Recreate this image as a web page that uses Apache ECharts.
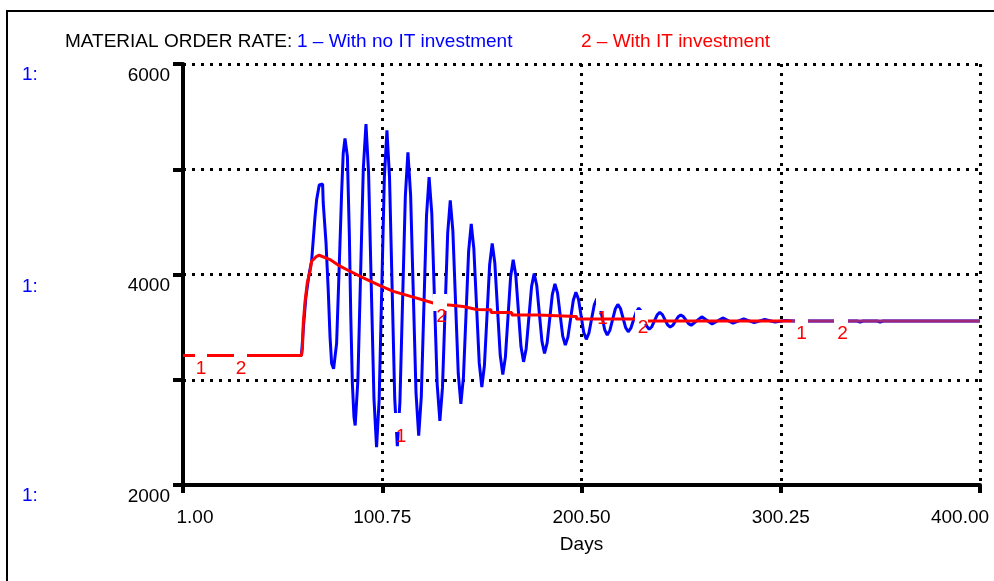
<!DOCTYPE html>
<html><head><meta charset="utf-8">
<script src="https://cdn.jsdelivr.net/npm/echarts@6/dist/echarts.min.js"></script>
<style>html,body{margin:0;padding:0;background:#fff}#c{width:994px;height:581px}</style>
</head><body><div id="c"></div>
<script>
// ---- data ----
const titleText = 'MATERIAL ORDER RATE:';
const seriesNames = ['1 \u2013 With no IT investment', '2 \u2013 With IT investment'];
const xAxisName = 'Days';
const xTickDays = [1, 100.75, 200.5, 300.25, 400];
const yTickLabels = [2000, 4000, 6000];

const blueDays = [1,60.3,61.3,62.5,64.0,65.4,67.1,67.9,69.2,70.1,70.9,
  71.2,72.6,73.7,74.6,75.4,76.4,
  77.9,78.7,79.6,80.4,81.2,82.1,
  83.3,84.3,85.0,85.8,86.6,87.2,
  88.55,91.25,92.6, 93.9,96.6,97.9, 99.2,101.8,103.1, 104.4,107.0,108.3,
  109.6,112.3,113.6, 114.95,117.65,119.0, 120.3,122.9,124.2, 125.55,128.25,129.6,
  130.9,133.5,134.8, 136.1,138.8,140.1, 141.4,144.0,145.3, 146.6,149.3,150.6,
  151.9,154.5,155.8, 157.1,159.8,161.1, 162.4,165.0,166.3, 167.6,170.2,171.5,
  172.8,175.5,176.8, 178.1,180.7,182.0, 183.3,185.9,187.2, 188.5,191.1,192.4,
  193.7,196.4,197.7, 199.0,201.6,202.9, 204.2,206.9,208.2, 209.5,212.1,213.4,
  214.7,217.4,218.7, 220.0,222.6,223.9, 225.2,227.9,229.2, 230.5,233.1,234.4,
  235.7,238.4,239.7, 241.0,243.6,244.9, 246.2,248.9,250.2, 251.5,254.1,255.4,
  260.7,265.9,271.2,276.4,281.7,286.9,292.2,297.4,302.5,307,
  338.5,340,341.5,348.5,350,351.5,400];
const blueValues = [3230,3230,3500,3780,3990,4130,4550,4710,4850,4868,4860,
  4680,4300,3855,3410,3155,3105,
  3345,3790,4300,4770,5150,5293,
  5120,4360,3600,2960,2645,2565,
  2995,5000,5430, 4970,2820,2360, 2810,4920,5370, 4920,2820,2370,
  2790,4740,5160, 4755,2875,2470, 2840,4555,4925, 4580,2955,2610,
  2925,4390,4705, 4415,3060,2770, 3025,4225,4480, 4245,3160,2930,
  3135,4090,4295, 4110,3235,3050, 3215,3975,4140, 3995,3315,3170,
  3295,3885,4010, 3895,3365,3250, 3350,3810,3910, 3825,3415,3330,
  3405,3755,3832, 3765,3452,3384, 3442,3712,3770, 3718,3477,3425,
  3469,3672,3716, 3677,3495,3456, 3490,3646,3680, 3650,3510,3480,
  3504,3616,3640, 3619,3521,3500, 3517,3598,3615, 3600,3533,3518,
  3598,3530,3587,3538,3578,3543,3572,3548,3562,3558,
  3558,3547,3558,3558,3547,3558,3558];

const redDays = [1,60.3,60.8,61.2,62.1,63.2,64.6,65.4,67.9,69.2,74.6,79.6,84.6,91.3,99.6,
  106.3,116.3,126.3,133,141.3,148,155.2,155.2,165.6,165.6,178.5,178.5,198,198,230,230,400];
const redValues = [3230,3230,3300,3537,3745,3920,4031,4126,4173,4183,4142,4079,4031,3968,3895,
  3840,3785,3729,3712,3696,3668,3665,3640,3640,3616,3616,3600,3600,3578,3578,3558,3558];

// ---- build ----
const FONT = '"Liberation Sans", Arial, Helvetica, sans-serif';
const FS = 19;
const BLUE = '#0000ff', RED = '#ff0000';
const toPairs = (d, v) => d.map((x, i) => [x - 1, v[i]]);
const firstDay = xTickDays[0], lastDay = xTickDays[xTickDays.length - 1];

function txt(text, x, y, color, align) {
  return { type: 'text', z: 100, style: { text, x, y, fill: color, font: FS + 'px ' + FONT,
    align: align || 'left', verticalAlign: 'middle', textAlign: align || 'left', textVerticalAlign: 'middle' } };
}
function box(x, y, w, h) {
  return { type: 'rect', z: 99, shape: { x, y, width: w, height: h }, style: { fill: '#fff' } };
}

const graphics = [
  // frame
  { type: 'line', z: 100, shape: { x1: 7, y1: 11, x2: 7, y2: 581 }, style: { stroke: '#000', lineWidth: 2 } },
  { type: 'line', z: 100, shape: { x1: 6, y1: 11, x2: 994, y2: 11 }, style: { stroke: '#000', lineWidth: 2 } },
  txt(titleText, 65, 42, '#000'),
  txt(seriesNames[0], 297, 42, BLUE),
  txt(seriesNames[1], 581, 42, RED),
  txt('1:', 22, 75, BLUE), txt('1:', 22, 287, BLUE), txt('1:', 22, 496, BLUE),
  // line number labels (white knock-out boxes + digits)
  box(195, 349, 12, 18), txt('1', 201, 369, RED, 'center'),
  box(234, 349, 13, 18), txt('2', 241, 369, RED, 'center'),
  box(393, 413, 15, 19), txt('1', 401, 437, RED, 'center'),
  box(433, 294, 14, 17), txt('2', 441.5, 317, RED, 'center'),
  box(596, 294, 12, 17), txt('1', 602.5, 319, RED, 'center'),
  box(635, 310, 13, 14), txt('2', 643, 328, RED, 'center'),
  box(795, 314, 13, 13), txt('1', 801.5, 334, RED, 'center'),
  box(834, 314, 14, 13), txt('2', 842.5, 333.5, RED, 'center')
];

const dotted = { color: '#000', width: 3, type: [3, 6] };

const chart = echarts.init(document.getElementById('c'), null, { renderer: 'canvas' });
chart.setOption({
  animation: false,
  backgroundColor: '#fff',
  grid: { left: 183, right: 14, top: 64, bottom: 96, containLabel: false, outerBoundsMode: 'none' },
  xAxis: {
    type: 'value', min: 0, max: lastDay - firstDay, interval: (xTickDays[1] - xTickDays[0]),
    axisLine: { show: true, onZero: false, lineStyle: { color: '#000', width: 4 } },
    axisTick: { show: true, length: 8, lineStyle: { color: '#000', width: 4 } },
    splitLine: { show: true, lineStyle: dotted },
    axisLabel: { color: '#000', fontFamily: FONT, fontSize: FS, margin: 23,
      alignMinLabel: 'center', alignMaxLabel: 'center',
      formatter: v => {
        const s = (v + firstDay).toFixed(2);
        if (v === 0) return '{mn|' + s + '}';
        if (v === lastDay - firstDay) return '{mx|' + s + '}';
        return s;
      },
      rich: {
        mn: { fontFamily: FONT, fontSize: FS, color: '#000', padding: [0, 0, 0, 24] },
        mx: { fontFamily: FONT, fontSize: FS, color: '#000', padding: [0, 40, 0, 0] }
      } },
    name: xAxisName, nameLocation: 'middle', nameGap: 50,
    nameTextStyle: { color: '#000', fontFamily: FONT, fontSize: FS }
  },
  yAxis: {
    type: 'value', min: yTickLabels[0], max: yTickLabels[yTickLabels.length - 1], interval: 1000,
    axisLine: { show: true, lineStyle: { color: '#000', width: 4 } },
    axisTick: { show: true, length: 10, lineStyle: { color: '#000', width: 4 } },
    splitLine: { show: true, lineStyle: dotted },
    axisLabel: { color: '#000', fontFamily: FONT, fontSize: FS, margin: 13, verticalAlign: 'top',
      padding: [2, 0, 0, 0],
      formatter: v => (yTickLabels.indexOf(v) >= 0 ? String(v) : '') }
  },
  series: [
    { name: seriesNames[0], type: 'line', data: toPairs(blueDays, blueValues), symbol: 'none', z: 2,
      lineStyle: { color: BLUE, width: 3 } },
    { name: seriesNames[1], type: 'line', data: toPairs(redDays, redValues), symbol: 'none', z: 3,
      lineStyle: { width: 3, color: new echarts.graphic.LinearGradient(0, 0, 1, 0, [
        { offset: 0, color: RED }, { offset: 0.762, color: RED },
        { offset: 0.762, color: '#a02878' }, { offset: 1, color: '#a02878' }]) } }
  ],
  graphic: { elements: graphics }
});
</script></body></html>
